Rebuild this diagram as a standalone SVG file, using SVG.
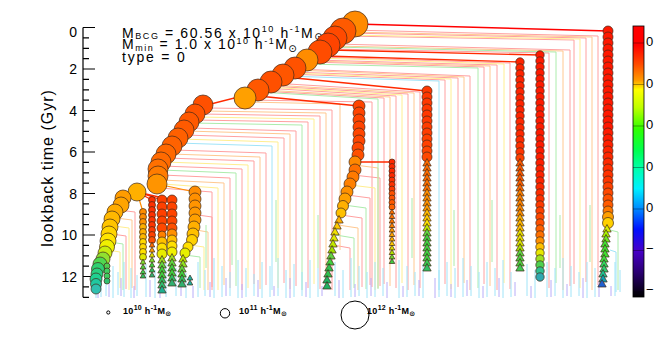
<svg xmlns="http://www.w3.org/2000/svg" xmlns:xlink="http://www.w3.org/1999/xlink" width="654" height="352" viewBox="0 0 654 352">
<style>
.t{font-family:"Liberation Sans","DejaVu Sans",sans-serif;fill:#000}
.ax{stroke:#000;stroke-width:1.2;fill:none}
.L path{fill:none;stroke-width:1}
.P{stroke:#ffa0a0}.O{stroke:#ffc890}.Y{stroke:#ffee90}.G{stroke:#acecac}.C{stroke:#a0e4f8}.V{stroke:#b8acf8}
.k path{fill:none}
.nd circle,.nd use{stroke:#402818;stroke-width:0.7}
.lg{fill:none;stroke:#000;stroke-width:1}
</style>
<defs>
<linearGradient id="cb" x1="0" y1="0" x2="0" y2="1">
<stop offset="0" stop-color="#ff0000"/>
<stop offset="0.07" stop-color="#ff0000"/>
<stop offset="0.14" stop-color="#ff4a00"/>
<stop offset="0.2" stop-color="#ff9a00"/>
<stop offset="0.235" stop-color="#ffff00"/>
<stop offset="0.3" stop-color="#c0ff00"/>
<stop offset="0.38" stop-color="#30ff00"/>
<stop offset="0.46" stop-color="#00ff50"/>
<stop offset="0.53" stop-color="#00ffb0"/>
<stop offset="0.6" stop-color="#00f0ff"/>
<stop offset="0.67" stop-color="#0090ff"/>
<stop offset="0.75" stop-color="#0010ff"/>
<stop offset="0.83" stop-color="#4800c8"/>
<stop offset="0.91" stop-color="#2a0070"/>
<stop offset="1" stop-color="#000000"/>
</linearGradient>
<path id="t" d="M0 -4.5L4.2 3L-4.2 3Z"/>
<path id="ts" d="M0 -3L2.8 2L-2.8 2Z"/>
</defs>
<rect width="654" height="352" fill="#fff"/>

<!-- axis -->
<g id="axis">
<path class="ax" d="M83 27.5V297.3M83 27.5H95M83 69H95M83 110.5H95M83 152H95M83 193.5H95M83 235H95M83 276.5H95"/>
<path class="ax" d="M83 37.9H89M83 48.3H89M83 58.6H89M83 79.4H89M83 89.8H89M83 100.1H89M83 120.9H89M83 131.3H89M83 141.6H89M83 162.4H89M83 172.8H89M83 183.1H89M83 203.9H89M83 214.3H89M83 224.6H89M83 245.4H89M83 255.8H89M83 266.1H89M83 286.9H89M83 297.3H89"/>
<g class="t" font-size="14" text-anchor="end">
<text x="77" y="37">0</text>
<text x="77" y="74">2</text>
<text x="77" y="115.5">4</text>
<text x="77" y="157">6</text>
<text x="77" y="198.5">8</text>
<text x="77" y="240">10</text>
<text x="77" y="281.5">12</text>
</g>
<text class="t" font-size="16" letter-spacing="1" text-anchor="middle" transform="translate(53 168) rotate(-90)">lookback time (Gyr)</text>
</g>

<!-- annotation -->
<g id="info" class="t" font-size="14">
<text x="122" y="37.5" letter-spacing="1.6">M<tspan font-size="9" dy="1.5">BCG</tspan><tspan dy="-1.5"> = 60.56 x 10</tspan><tspan font-size="9" dy="-6">10</tspan><tspan dy="6"> h</tspan><tspan font-size="9" dy="-6">-1</tspan><tspan dy="6">M</tspan><tspan font-size="10" dy="2.5">⊙</tspan></text>
<text x="122" y="49" letter-spacing="1.5">M<tspan font-size="9" dy="2">min</tspan><tspan dy="-2"> = 1.0 x 10</tspan><tspan font-size="9" dy="-5">10</tspan><tspan dy="5"> h</tspan><tspan font-size="9" dy="-5">-1</tspan><tspan dy="5">M</tspan><tspan font-size="10" dy="3">⊙</tspan></text>
<text x="122" y="61.5" letter-spacing="1.8">type = 0</text>
</g>

<!-- connectors -->
<g id="connectors">
<g class="L">
<path class="P" d="M350 30L598 36V285M346 33L586 38V282M342 36L574 40V284M335 44L570 50V286M329 49L549 53V288M318 57L510 63V289M314 60L497 65V290M310 62L484 67V284M296 69L470 76V290M292 72L458 78V287M288 74L445 80V284M272 83L420 92V288M268 86L408 94V290M264 88L396 96V288M260 91L384 98V284M248 100L372 102V287M210 108L332 110V290M202 114L320 116V289M195 120L308 122V288M190 128L296 131V286M183 135L284 138V283M174 150L266 153V285M166 158L254 161V284M162 166L242 169V290M162 175L230 178V288M160 188L212 192V287M118 210L135 212V290M112 234L126 236V289M198 215L212 217V290M353 175L380 178V286M347 195L370 198V285M341 215L362 218V287M333 245L350 248V290"/>
<path class="O" d="M348 32L592 37V290M333 46L563 51V290M312 61L490 66V286M294 70L464 77V283M270 85L414 93V285M262 90L390 97V286M246 102L340 104V250M206 111L326 113V286M186 131L290 134V289M170 154L260 157V289M162 180L224 183V285M116 218L132 220V288M196 230L208 232V290M355 165L378 168V288M338 225L358 228V290"/>
<path class="Y" d="M344 35L580 39V288M316 58L504 64V283M290 73L451 79V289M266 87L402 95V283M198 117L314 119V284M180 139L278 142V288M164 162L248 165V288M163 184L218 188V290M114 226L129 228V290M108 250L120 252V288M190 245L204 247V290M350 185L375 188V290"/>
<path class="G" d="M331 47L556 52V283M306 64L478 68V288M258 92L378 99V289M192 123L302 125V290M161 170L236 173V286M110 242L123 244V290M185 255L200 257V288M344 205L366 208V289M336 235L354 238V288M610 230L618 232V290M232 210V265M276 200V262M318 215V268M412 198V258M454 210V266M492 200V262M560 215V268M590 205V262M206 225V268"/>
<path class="C" d="M286 76L439 81V290M177 143L272 146V290M610 250L616 252V292M96 262V298M101 270V297M106 258V296M113 266V298M118 272V295M124 262V297M131 268V298M137 275V296M146 264V297M155 270V298M166 262V297M176 268V296M186 273V298M198 262V297M205 270V296M214 258V298M222 266V297M230 272V296M238 260V298M246 268V297M254 274V296M262 262V298M270 266V297M278 258V296M286 270V298M294 264V297M302 272V296M310 260V298M318 268V297M335 262V296M343 270V298M351 258V297M359 266V296M367 272V298M375 262V297M383 268V296M399 260V298M407 266V297M415 272V296M423 264V298M439 270V297M447 262V296M455 268V298M463 258V297M471 266V296M479 272V298M487 262V297M495 268V296M503 260V298M511 272V297M527 264V296M535 270V298M547 262V297M555 268V296M563 258V298M571 266V297M579 272V296M587 262V298M595 268V297M615 262V296M620 270V292"/>
<path class="V" d="M98 280V298M109 284V297M121 278V296M134 286V298M150 280V297M160 284V298M181 278V296M193 286V298M210 282V297M226 278V296M242 284V298M258 280V297M274 286V296M290 278V298M306 282V297M322 286V296M339 280V298M355 284V297M371 278V296M387 282V298M403 286V297M419 280V296M435 278V298M451 284V297M467 280V296M483 286V298M499 278V297M515 282V296M531 286V298M551 280V297M567 284V296M583 278V298M599 282V297M611 286V296"/>
</g>
<g class="k">
<path d="M355 24L608 31" stroke="#ff0000" stroke-width="1.6"/>
<path d="M330 50L540 55M325 56L520 62M295 78L427 91M258 96L359 106M203 106L258 92M355 162L392 162M137 192L152 200M137 192L162 200M137 192L172 200" stroke="#ff2a00" stroke-width="1.3"/>
<path d="M157 184L195 192M137 192L143 212" stroke="#ff8c00" stroke-width="1.2"/>
</g>
</g>

<!-- main branch -->
<g id="main" class="nd">
<circle cx="355" cy="24" r="13" fill="#ff8a00"/>
<circle cx="343" cy="31" r="13" fill="#ff5a00"/>
<circle cx="335" cy="38" r="12" fill="#ff4a00"/>
<circle cx="328" cy="45" r="12" fill="#ff4400"/>
<circle cx="320" cy="52" r="12" fill="#ff4c00"/>
<circle cx="307" cy="60" r="11" fill="#ff8c00"/>
<circle cx="295" cy="68" r="11" fill="#ff5200"/>
<circle cx="283" cy="75" r="11" fill="#ff5600"/>
<circle cx="271" cy="82" r="11" fill="#ff5000"/>
<circle cx="258" cy="90" r="11" fill="#ff5800"/>
<circle cx="245" cy="98" r="11" fill="#ffa000"/>
<circle cx="203" cy="105" r="10" fill="#ff5000"/>
<circle cx="195" cy="114" r="10" fill="#ff5400"/>
<circle cx="189" cy="122" r="10" fill="#ff5800"/>
<circle cx="184" cy="130" r="10" fill="#ff5a00"/>
<circle cx="178" cy="138" r="10" fill="#ff6000"/>
<circle cx="172" cy="146" r="10" fill="#ff6200"/>
<circle cx="166" cy="154" r="10" fill="#ff6800"/>
<circle cx="161" cy="162" r="10" fill="#ff6a00"/>
<circle cx="158" cy="169" r="10" fill="#ff7000"/>
<circle cx="158" cy="176" r="10" fill="#ff7c00"/>
<circle cx="157" cy="184" r="10" fill="#ff9400"/>
</g>
<g id="leftbranch" class="nd">
<circle cx="137" cy="192" r="9" fill="#ffb000"/>
<circle cx="123" cy="198" r="8" fill="#ff9c00"/>
<circle cx="121" cy="205" r="8" fill="#ffa400"/>
<circle cx="115" cy="212" r="8" fill="#ffac00"/>
<circle cx="112" cy="219" r="8" fill="#ffb800"/>
<circle cx="110" cy="227" r="8" fill="#ffc400"/>
<circle cx="109" cy="234" r="8" fill="#ffd400"/>
<circle cx="108" cy="241" r="8" fill="#ffe400"/>
<circle cx="107" cy="247" r="7.5" fill="#f0f000"/>
<circle cx="105" cy="253" r="7" fill="#c8ec10"/>
<circle cx="103" cy="259" r="7" fill="#90e030"/>
<circle cx="100" cy="264" r="7" fill="#50d850"/>
<circle cx="98" cy="269" r="6.5" fill="#30d070"/>
<circle cx="97" cy="274" r="6" fill="#28d080"/>
<circle cx="96" cy="279" r="6" fill="#20d090"/>
<circle cx="96" cy="284" r="5.5" fill="#20c8a0"/>
<circle cx="96" cy="289" r="5" fill="#30c0b0"/>
<circle cx="107" cy="266" r="3" fill="#50d050"/>
<circle cx="107" cy="271" r="3" fill="#40d060"/>
<circle cx="107" cy="276" r="3" fill="#40d060"/>
<circle cx="107" cy="281" r="3" fill="#30c070"/>
</g>
<g id="col143" class="nd">
<circle cx="143" cy="212" r="3.5" fill="#ff8c00"/>
<circle cx="143" cy="217" r="3.5" fill="#ff8c00"/>
<circle cx="143" cy="222" r="3.5" fill="#ff9400"/>
<circle cx="143" cy="227" r="3.5" fill="#ffb000"/>
<circle cx="143" cy="232" r="3.5" fill="#ffb000"/>
<circle cx="143" cy="237" r="3.5" fill="#ffb800"/>
<circle cx="143" cy="242" r="3.5" fill="#ffd800"/>
<circle cx="143" cy="247" r="3.5" fill="#ffd800"/>
<circle cx="143" cy="252" r="3.5" fill="#ffe000"/>
<circle cx="143" cy="257" r="3.5" fill="#e0e800"/>
<use href="#ts" x="143" y="262" fill="#80e030"/>
<use href="#ts" x="143" y="267" fill="#50d040"/>
<use href="#ts" x="143" y="272" fill="#40d050"/>
<use href="#ts" x="143" y="276" fill="#30c060"/>
</g>
<g id="col152" class="nd">
<circle cx="152" cy="200" r="3.5" fill="#ff3000"/>
<circle cx="152" cy="205" r="3.5" fill="#ff3000"/>
<circle cx="152" cy="210" r="3.5" fill="#ff3000"/>
<circle cx="152" cy="215" r="3.5" fill="#ff3000"/>
<circle cx="152" cy="220" r="3.5" fill="#ff3400"/>
<circle cx="152" cy="225" r="3.5" fill="#ff3400"/>
<circle cx="152" cy="230" r="3.5" fill="#ff3800"/>
<circle cx="152" cy="235" r="3.5" fill="#ff4000"/>
<circle cx="152" cy="240" r="3.5" fill="#ff5000"/>
<use href="#ts" x="152" y="245" fill="#ff7000"/>
<use href="#ts" x="152" y="250" fill="#ffa000"/>
<use href="#ts" x="152" y="255" fill="#e0e000"/>
<use href="#ts" x="152" y="260" fill="#80e030"/>
<use href="#ts" x="152" y="265" fill="#40d040"/>
<use href="#ts" x="152" y="270" fill="#30c060"/>
<use href="#ts" x="152" y="275" fill="#30b070"/>
</g>
<g id="col162" class="nd">
<circle cx="162" cy="200" r="5" fill="#ff4000"/>
<circle cx="162" cy="207" r="5" fill="#ff4000"/>
<circle cx="162" cy="214" r="5" fill="#ff4000"/>
<circle cx="162" cy="221" r="5" fill="#ff4400"/>
<circle cx="162" cy="228" r="5" fill="#ff4800"/>
<circle cx="162" cy="235" r="4" fill="#ff8000"/>
<circle cx="162" cy="242" r="5" fill="#ffc000"/>
<circle cx="162" cy="248" r="5" fill="#ffe000"/>
<circle cx="162" cy="254" r="5" fill="#e8ec00"/>
<use href="#t" x="162" y="260" fill="#a0e020"/>
<use href="#t" x="162" y="265" fill="#60d840"/>
<use href="#t" x="162" y="270" fill="#40d040"/>
<use href="#t" x="162" y="275" fill="#40d040"/>
<use href="#t" x="162" y="280" fill="#30c060"/>
<use href="#t" x="162" y="285" fill="#30c070"/>
<use href="#t" x="162" y="290" fill="#20b090"/>
</g>
<g id="col172" class="nd">
<circle cx="172" cy="200" r="5" fill="#ff4400"/>
<circle cx="172" cy="207" r="5" fill="#ff4400"/>
<circle cx="172" cy="214" r="5" fill="#ff4400"/>
<circle cx="172" cy="221" r="5" fill="#ff4800"/>
<circle cx="172" cy="228" r="5" fill="#ff5000"/>
<circle cx="172" cy="234" r="5" fill="#ff9000"/>
<circle cx="172" cy="240" r="5" fill="#ffc000"/>
<circle cx="172" cy="246" r="5" fill="#ffe000"/>
<circle cx="172" cy="252" r="5" fill="#f0f000"/>
<use href="#t" x="172" y="258" fill="#a0e020"/>
<use href="#t" x="172" y="263" fill="#60d840"/>
<use href="#t" x="172" y="268" fill="#40d040"/>
<use href="#t" x="172" y="273" fill="#40d040"/>
<use href="#t" x="172" y="278" fill="#30c060"/>
<use href="#t" x="172" y="283" fill="#30b070"/>
</g>
<g id="col195" class="nd">
<circle cx="195" cy="192" r="6" fill="#ff8c00"/>
<circle cx="195" cy="199" r="6" fill="#ff9000"/>
<circle cx="195" cy="206" r="6" fill="#ff9400"/>
<circle cx="195" cy="213" r="6" fill="#ff9800"/>
<circle cx="195" cy="220" r="6" fill="#ffa000"/>
<circle cx="194" cy="227" r="6" fill="#ffb000"/>
<circle cx="193" cy="234" r="6" fill="#ffc000"/>
<circle cx="192" cy="240" r="5.5" fill="#ffd000"/>
<circle cx="188" cy="247" r="5" fill="#ffe000"/>
<circle cx="185" cy="253" r="5" fill="#e8f000"/>
<use href="#t" x="183" y="259" fill="#c0e800"/>
<use href="#t" x="183" y="264" fill="#90e020"/>
<use href="#t" x="182" y="269" fill="#60d840"/>
<use href="#t" x="182" y="274" fill="#40d040"/>
<use href="#t" x="182" y="279" fill="#30c060"/>
<use href="#t" x="182" y="284" fill="#30b070"/>
<use href="#ts" x="190" y="278" fill="#20b0a0"/>
<use href="#ts" x="190" y="283" fill="#20b0a0"/>
</g>
<g id="mid358" class="nd">
<circle cx="359" cy="106" r="6" fill="#ff4400"/>
<circle cx="359" cy="113" r="6" fill="#ff4400"/>
<circle cx="359" cy="120" r="6" fill="#ff4400"/>
<circle cx="359" cy="127" r="6" fill="#ff4400"/>
<circle cx="359" cy="134" r="6" fill="#ff4600"/>
<circle cx="359" cy="141" r="6" fill="#ff4600"/>
<circle cx="358" cy="148" r="6" fill="#ff4800"/>
<circle cx="358" cy="155" r="6" fill="#ff5000"/>
<circle cx="355" cy="162" r="6" fill="#ff8800"/>
<circle cx="355" cy="170" r="6" fill="#ff7000"/>
<circle cx="353" cy="177" r="6" fill="#ff7a00"/>
<circle cx="350" cy="184" r="6" fill="#ff8000"/>
<circle cx="347" cy="192" r="6" fill="#ff9000"/>
<circle cx="345" cy="199" r="6" fill="#ffa000"/>
<circle cx="343" cy="206" r="5.5" fill="#ffb000"/>
<circle cx="341" cy="213" r="5" fill="#ffc000"/>
<use href="#t" x="339" y="220" fill="#ffb000"/>
<use href="#t" x="337" y="226" fill="#ffc800"/>
<use href="#t" x="335" y="232" fill="#f0e000"/>
<use href="#t" x="334" y="238" fill="#e0e800"/>
<use href="#t" x="333" y="244" fill="#c0e800"/>
<use href="#t" x="332" y="250" fill="#a0e000"/>
<use href="#t" x="331" y="256" fill="#60d040"/>
<use href="#t" x="330" y="262" fill="#40d040"/>
<use href="#t" x="329" y="268" fill="#30c050"/>
<use href="#t" x="328" y="274" fill="#30c050"/>
<use href="#t" x="327" y="280" fill="#20b060"/>
<use href="#t" x="327" y="286" fill="#20b060"/>
</g>
<g id="col392" class="nd">
<circle cx="392" cy="162" r="3" fill="#ff2800"/>
<circle cx="392" cy="166.5" r="3" fill="#ff2800"/>
<circle cx="392" cy="171" r="3" fill="#ff2800"/>
<circle cx="392" cy="175.5" r="3" fill="#ff2800"/>
<circle cx="392" cy="180" r="3" fill="#ff3000"/>
<circle cx="392" cy="184.5" r="3" fill="#ff3000"/>
<circle cx="392" cy="189" r="3" fill="#ff3800"/>
<circle cx="392" cy="193.5" r="3" fill="#ff5000"/>
<circle cx="392" cy="198" r="3" fill="#ff5000"/>
<circle cx="392" cy="202.5" r="3" fill="#ff5800"/>
<circle cx="392" cy="207" r="3" fill="#ff6000"/>
<use href="#ts" x="392" y="212" fill="#ff7000"/>
<use href="#ts" x="392" y="216.5" fill="#ff7000"/>
<use href="#ts" x="392" y="221" fill="#ff7800"/>
<use href="#ts" x="392" y="225.5" fill="#ff8000"/>
<use href="#ts" x="392" y="230" fill="#ff9c00"/>
<use href="#ts" x="392" y="234.5" fill="#ffa400"/>
<use href="#ts" x="392" y="239" fill="#ffb000"/>
<use href="#ts" x="392" y="243.5" fill="#ffc800"/>
<use href="#ts" x="392" y="248" fill="#e0e000"/>
<use href="#ts" x="392" y="252.5" fill="#b0e000"/>
<use href="#ts" x="392" y="257" fill="#70d830"/>
<use href="#ts" x="392" y="261.5" fill="#40c840"/>
</g>
<g id="col427" class="nd">
<circle cx="427" cy="91" r="5" fill="#ff3800"/>
<circle cx="427" cy="97" r="5" fill="#ff3800"/>
<circle cx="427" cy="103" r="5" fill="#ff3800"/>
<circle cx="427" cy="109" r="5" fill="#ff3800"/>
<circle cx="427" cy="115" r="5" fill="#ff3800"/>
<circle cx="427" cy="121" r="5" fill="#ff3800"/>
<circle cx="427" cy="127" r="5" fill="#ff3c00"/>
<circle cx="427" cy="133" r="5" fill="#ff3c00"/>
<circle cx="427" cy="139" r="5" fill="#ff4000"/>
<circle cx="427" cy="145" r="5" fill="#ff4000"/>
<circle cx="427" cy="151" r="5" fill="#ff4400"/>
<circle cx="427" cy="157" r="5" fill="#ff4800"/>
<use href="#t" x="427" y="163" fill="#ff6a00"/>
<use href="#t" x="427" y="168" fill="#ff6a00"/>
<use href="#t" x="427" y="173" fill="#ff6a00"/>
<use href="#t" x="427" y="178" fill="#ff6a00"/>
<use href="#t" x="427" y="183" fill="#ff7000"/>
<use href="#t" x="427" y="188" fill="#ff7000"/>
<use href="#t" x="427" y="193" fill="#ff8c00"/>
<use href="#t" x="427" y="198" fill="#ff8c00"/>
<use href="#t" x="427" y="203" fill="#ff9000"/>
<use href="#t" x="427" y="208" fill="#ff9800"/>
<use href="#t" x="427" y="213" fill="#ffb800"/>
<use href="#t" x="427" y="218" fill="#ffc800"/>
<use href="#t" x="427" y="223" fill="#ffe000"/>
<use href="#t" x="427" y="228" fill="#c0e800"/>
<use href="#t" x="427" y="233" fill="#60d840"/>
<use href="#t" x="427" y="238" fill="#40d040"/>
<use href="#t" x="427" y="243" fill="#40d040"/>
<use href="#t" x="427" y="248" fill="#40d040"/>
<use href="#t" x="427" y="253" fill="#40d040"/>
<use href="#t" x="427" y="258" fill="#40d040"/>
<use href="#t" x="427" y="263" fill="#38c850"/>
<use href="#t" x="427" y="268" fill="#30c060"/>
</g>
<g id="col520" class="nd">
<circle cx="520" cy="62" r="4.2" fill="#ff2400"/>
<circle cx="520" cy="68" r="4.2" fill="#ff2400"/>
<circle cx="520" cy="74" r="4.2" fill="#ff2400"/>
<circle cx="520" cy="80" r="4.2" fill="#ff2400"/>
<circle cx="520" cy="86" r="4.2" fill="#ff2400"/>
<circle cx="520" cy="92" r="4.2" fill="#ff2400"/>
<circle cx="520" cy="98" r="4.2" fill="#ff2400"/>
<circle cx="520" cy="104" r="4.2" fill="#ff2400"/>
<circle cx="520" cy="110" r="4.2" fill="#ff2400"/>
<circle cx="520" cy="116" r="4.2" fill="#ff2400"/>
<circle cx="520" cy="122" r="4.2" fill="#ff2800"/>
<circle cx="520" cy="128" r="4.2" fill="#ff2800"/>
<circle cx="520" cy="134" r="4.2" fill="#ff2800"/>
<circle cx="520" cy="140" r="4.2" fill="#ff2c00"/>
<circle cx="520" cy="146" r="4.2" fill="#ff3000"/>
<circle cx="520" cy="152" r="4.2" fill="#ff3400"/>
<circle cx="520" cy="158" r="4.2" fill="#ff4000"/>
<use href="#t" x="520" y="163" fill="#ff5a00"/>
<use href="#t" x="520" y="168" fill="#ff5a00"/>
<use href="#t" x="520" y="173" fill="#ff5a00"/>
<use href="#t" x="520" y="178" fill="#ff5a00"/>
<use href="#t" x="520" y="183" fill="#ff6000"/>
<use href="#t" x="520" y="188" fill="#ff6800"/>
<use href="#t" x="520" y="193" fill="#ff8000"/>
<use href="#t" x="520" y="198" fill="#ff8000"/>
<use href="#t" x="520" y="203" fill="#ff8400"/>
<use href="#t" x="520" y="208" fill="#ff8800"/>
<use href="#t" x="520" y="213" fill="#ff9000"/>
<use href="#t" x="520" y="218" fill="#ffb000"/>
<use href="#t" x="520" y="223" fill="#ffb800"/>
<use href="#t" x="520" y="228" fill="#ffc000"/>
<use href="#t" x="520" y="233" fill="#e8e000"/>
<use href="#t" x="520" y="238" fill="#e8e000"/>
<use href="#t" x="520" y="243" fill="#d8e400"/>
<use href="#t" x="520" y="248" fill="#b0e000"/>
<use href="#t" x="520" y="253" fill="#60d840"/>
<use href="#t" x="520" y="258" fill="#50d040"/>
<use href="#t" x="520" y="263" fill="#50d040"/>
<use href="#t" x="520" y="268" fill="#40c850"/>
</g>
<g id="col540" class="nd">
<circle cx="540" cy="55" r="4.2" fill="#ff1a00"/>
<circle cx="540" cy="61" r="4.2" fill="#ff1a00"/>
<circle cx="540" cy="67" r="4.2" fill="#ff1a00"/>
<circle cx="540" cy="73" r="4.2" fill="#ff1a00"/>
<circle cx="540" cy="79" r="4.2" fill="#ff1a00"/>
<circle cx="540" cy="85" r="4.2" fill="#ff1a00"/>
<circle cx="540" cy="91" r="4.2" fill="#ff1a00"/>
<circle cx="540" cy="97" r="4.2" fill="#ff1a00"/>
<circle cx="540" cy="103" r="4.2" fill="#ff1a00"/>
<circle cx="540" cy="109" r="4.2" fill="#ff1a00"/>
<circle cx="540" cy="115" r="4.2" fill="#ff1a00"/>
<circle cx="540" cy="121" r="4.2" fill="#ff1a00"/>
<circle cx="540" cy="127" r="4.2" fill="#ff1a00"/>
<circle cx="540" cy="133" r="4.2" fill="#ff1a00"/>
<circle cx="540" cy="139" r="4.2" fill="#ff1a00"/>
<circle cx="540" cy="145" r="4.2" fill="#ff1a00"/>
<circle cx="540" cy="151" r="4.2" fill="#ff1a00"/>
<circle cx="540" cy="157" r="4.2" fill="#ff1e00"/>
<circle cx="540" cy="163" r="4.2" fill="#ff1e00"/>
<circle cx="540" cy="169" r="4.2" fill="#ff2000"/>
<circle cx="540" cy="175" r="4.2" fill="#ff2200"/>
<circle cx="540" cy="181" r="4.2" fill="#ff2400"/>
<circle cx="540" cy="187" r="4.2" fill="#ff2800"/>
<circle cx="540" cy="193" r="4.2" fill="#ff2c00"/>
<circle cx="540" cy="199" r="4.2" fill="#ff3000"/>
<circle cx="540" cy="205" r="4.2" fill="#ff3a00"/>
<circle cx="540" cy="211" r="4.2" fill="#ff4000"/>
<circle cx="540" cy="217" r="4.2" fill="#ff4800"/>
<circle cx="540" cy="223" r="4.2" fill="#ff5000"/>
<circle cx="540" cy="229" r="4.2" fill="#ff6000"/>
<circle cx="540" cy="235" r="4.2" fill="#ff7000"/>
<circle cx="540" cy="241" r="4.2" fill="#ff9000"/>
<circle cx="540" cy="247" r="4.2" fill="#ffc000"/>
<circle cx="540" cy="253" r="4.2" fill="#e8e800"/>
<circle cx="540" cy="259" r="4.2" fill="#a0e020"/>
<circle cx="540" cy="265" r="4.2" fill="#50d050"/>
<circle cx="540" cy="271" r="4.2" fill="#30c090"/>
<circle cx="540" cy="277" r="4.2" fill="#30a8b0"/>
</g>
<g id="col608" class="nd">
<circle cx="608" cy="31" r="5" fill="#ff1800"/>
<circle cx="608" cy="37" r="5" fill="#ff1800"/>
<circle cx="608" cy="43" r="5" fill="#ff1800"/>
<circle cx="608" cy="49" r="5" fill="#ff1800"/>
<circle cx="608" cy="55" r="5" fill="#ff1800"/>
<circle cx="608" cy="61" r="5" fill="#ff1800"/>
<circle cx="608" cy="67" r="5" fill="#ff1800"/>
<circle cx="608" cy="73" r="5" fill="#ff1800"/>
<circle cx="608" cy="79" r="5" fill="#ff1800"/>
<circle cx="608" cy="85" r="5" fill="#ff1800"/>
<circle cx="608" cy="91" r="5" fill="#ff1800"/>
<circle cx="608" cy="97" r="5" fill="#ff1800"/>
<circle cx="608" cy="103" r="5" fill="#ff1800"/>
<circle cx="608" cy="109" r="5" fill="#ff1800"/>
<circle cx="608" cy="115" r="5" fill="#ff1800"/>
<circle cx="608" cy="121" r="5" fill="#ff1800"/>
<circle cx="608" cy="127" r="5" fill="#ff1800"/>
<circle cx="608" cy="133" r="5" fill="#ff1c00"/>
<circle cx="608" cy="139" r="5" fill="#ff1c00"/>
<circle cx="608" cy="145" r="5" fill="#ff2000"/>
<circle cx="608" cy="151" r="5" fill="#ff2400"/>
<circle cx="608" cy="157" r="5" fill="#ff2800"/>
<circle cx="608" cy="163" r="5" fill="#ff2a00"/>
<circle cx="608" cy="169" r="5" fill="#ff2e00"/>
<circle cx="608" cy="175" r="5" fill="#ff3200"/>
<circle cx="608" cy="181" r="5" fill="#ff3600"/>
<circle cx="608" cy="187" r="5" fill="#ff4000"/>
<circle cx="608" cy="193" r="5" fill="#ff4800"/>
<circle cx="608" cy="199" r="5" fill="#ff5000"/>
<circle cx="608" cy="205" r="5" fill="#ff5a00"/>
<circle cx="608" cy="211" r="5" fill="#ff7800"/>
<circle cx="608" cy="217" r="5.5" fill="#ffa000"/>
<circle cx="608" cy="223" r="5.5" fill="#ffd000"/>
<use href="#t" x="607" y="229" fill="#d8f000"/>
<use href="#t" x="606" y="234" fill="#a8f000"/>
<use href="#t" x="606" y="239" fill="#70e820"/>
<use href="#t" x="605" y="244" fill="#40e030"/>
<use href="#t" x="605" y="249" fill="#40e030"/>
<use href="#t" x="605" y="254" fill="#40e030"/>
<use href="#t" x="604" y="259" fill="#40e040"/>
<use href="#t" x="604" y="264" fill="#30d860"/>
<use href="#t" x="604" y="269" fill="#30d070"/>
<use href="#t" x="603" y="274" fill="#20c090"/>
<use href="#t" x="603" y="279" fill="#10a0b0"/>
<use href="#t" x="602" y="284" fill="#2060d0"/>
</g>

<!-- legend -->
<g id="legend">
<circle class="lg" cx="108.3" cy="312.5" r="1.6"/>
<circle class="lg" cx="225" cy="313.3" r="4.7"/>
<circle class="lg" cx="355" cy="315" r="14"/>
<g class="t" font-size="9" font-weight="bold" letter-spacing="0.3">
<text x="123" y="313.5">10<tspan font-size="7" dy="-4">10</tspan><tspan dy="4"> h</tspan><tspan font-size="7" dy="-4">-1</tspan><tspan dy="4">M</tspan><tspan font-size="7" dy="2">⊙</tspan></text>
<text x="239" y="313.5">10<tspan font-size="7" dy="-4">11</tspan><tspan dy="4"> h</tspan><tspan font-size="7" dy="-4">-1</tspan><tspan dy="4">M</tspan><tspan font-size="7" dy="2">⊙</tspan></text>
<text x="367" y="313.5">10<tspan font-size="7" dy="-4">12</tspan><tspan dy="4"> h</tspan><tspan font-size="7" dy="-4">-1</tspan><tspan dy="4">M</tspan><tspan font-size="7" dy="2">⊙</tspan></text>
</g>
</g>

<!-- colorbar -->
<g id="colorbar">
<rect x="633" y="26" width="11" height="271" fill="url(#cb)" stroke="#000" stroke-width="0.8"/>
<path d="M633 43H644M633 84.5H644M633 126H644M633 167.5H644M633 209H644M633 250.5H644M633 292H644" stroke="#000" stroke-opacity="0.45" stroke-width="0.8"/>
<g class="t" font-size="13">
<text x="646" y="46">0</text>
<text x="646" y="87.5">0</text>
<text x="646" y="129">0</text>
<text x="646" y="170.5">0</text>
<text x="646" y="212">0</text>
<text x="646" y="253">−</text>
<text x="646" y="294">−</text>
</g>
</g>
</svg>
